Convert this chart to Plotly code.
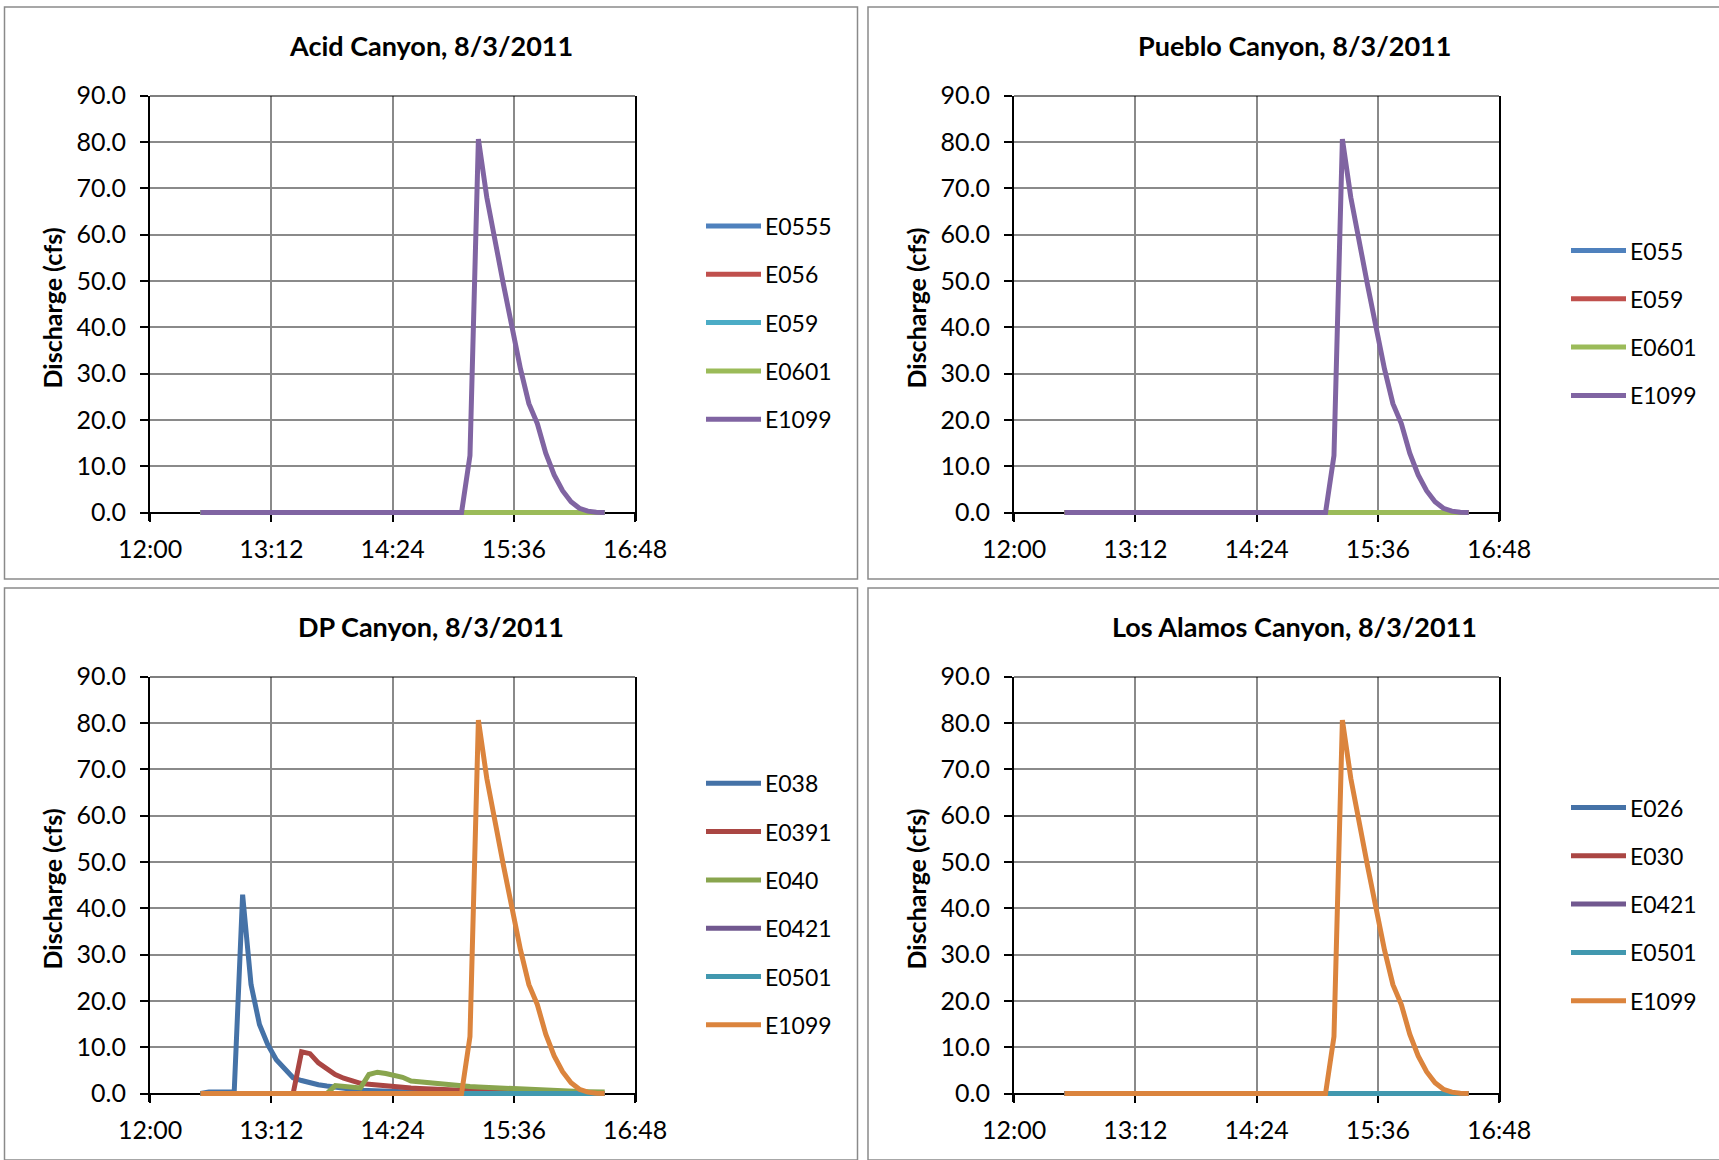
import plotly.graph_objects as go

DATE = "2011-08-03"
TIMES = ["12:30", "12:35", "12:40", "12:45", "12:50", "12:55", "13:00", "13:05", "13:10", "13:15",
         "13:20", "13:25", "13:30", "13:35", "13:40", "13:45", "13:50", "13:55", "14:00", "14:05",
         "14:10", "14:15", "14:20", "14:25", "14:30", "14:35", "14:40", "14:45", "14:50", "14:55",
         "15:00", "15:05", "15:10", "15:15", "15:20", "15:25", "15:30", "15:35", "15:40", "15:45",
         "15:50", "15:55", "16:00", "16:05", "16:10", "16:15", "16:20", "16:25", "16:30"]

ZERO = [0, 0, 0, 0, 0, 0, 0, 0, 0, 0, 0, 0, 0, 0, 0, 0, 0, 0, 0, 0, 0, 0, 0, 0, 0,
        0, 0, 0, 0, 0, 0, 0, 0, 0, 0, 0, 0, 0, 0, 0, 0, 0, 0, 0, 0, 0, 0, 0, 0]

E1099 = [0, 0, 0, 0, 0, 0, 0, 0, 0, 0, 0, 0, 0, 0, 0, 0, 0, 0, 0, 0, 0, 0, 0, 0, 0,
         0, 0, 0, 0, 0, 0, 0, 12.3, 80.6, 68.0, 58.0, 49.0, 40.0, 31.0, 23.5,
         19.2, 12.8, 8.1, 4.7, 2.3, 0.9, 0.3, 0.05, 0]

E038 = [0, 0.3, 0.3, 0.3, 0.3, 42.9, 23.5, 14.9, 10.5, 7.3, 5.2, 3.4, 2.8, 2.3, 1.9, 1.6,
        1.3, 1.1, 0.9, 0.7, 0.6, 0.5, 0.4, 0.4, 0.3, 0.3, 0.3, 0.2, 0.2, 0.2, 0.2, 0.2,
        0.1, 0.1, 0.1, 0.1, 0.1, 0.1, 0.1, 0.1, 0.1, 0.1, 0.1, 0.1, 0.1, 0.1, 0.1, 0.1, 0]

E0391 = [0, 0, 0, 0, 0, 0, 0, 0, 0, 0, 0, 0, 9.0, 8.6, 6.6, 5.2, 4.1, 3.3, 2.7, 2.2,
         2.0, 1.8, 1.6, 1.45, 1.3, 1.2, 1.1, 1.0, 0.95, 0.9, 0.85, 0.8, 0.5, 0.4, 0.4,
         0.3, 0.3, 0.3, 0.2, 0.2, 0.2, 0.2, 0.1, 0.1, 0.1, 0.1, 0.1, 0, 0]

E040 = [0, 0, 0, 0, 0, 0, 0, 0, 0, 0, 0, 0, 0, 0, 0, 0, 1.7, 1.5, 1.4, 1.2, 4.1, 4.6,
        4.3, 4.0, 3.5, 2.7, 2.5, 2.3, 2.2, 2.0, 1.8, 1.6, 1.5, 1.4, 1.3, 1.2, 1.1, 1.0,
        0.9, 0.85, 0.8, 0.7, 0.6, 0.55, 0.5, 0.45, 0.4, 0.35, 0.3]

PANELS = [
    {"title": "Acid Canyon, 8/3/2011",
     "names": ["E0555", "E056", "E059", "E0601", "E1099"],
     "values": [ZERO, ZERO, ZERO, ZERO, E1099],
     "colors": ["#4F81BD", "#C0504D", "#4BACC6", "#9BBB59", "#8064A2"]},
    {"title": "Pueblo Canyon, 8/3/2011",
     "names": ["E055", "E059", "E0601", "E1099"],
     "values": [ZERO, ZERO, ZERO, E1099],
     "colors": ["#4F81BD", "#C0504D", "#9BBB59", "#8064A2"]},
    {"title": "DP Canyon, 8/3/2011",
     "names": ["E038", "E0391", "E040", "E0421", "E0501", "E1099"],
     "values": [E038, E0391, E040, ZERO, ZERO, E1099],
     "colors": ["#4572A7", "#AA4643", "#89A54E", "#71588F", "#4198AF", "#DB843D"]},
    {"title": "Los Alamos Canyon, 8/3/2011",
     "names": ["E026", "E030", "E0421", "E0501", "E1099"],
     "values": [ZERO, ZERO, ZERO, ZERO, E1099],
     "colors": ["#4572A7", "#AA4643", "#71588F", "#4198AF", "#DB843D"]},
]

W, H = 1719, 1160
FONT = "Lato, 'Open Sans', sans-serif"
# pixel layout: (plot left, plot right, y of 90, y of 0, panel left, panel top, legend first y, legend x)
GEOM = [
    (150, 635, 95.5, 512.5, 4.5, 7, 226.0, 706),
    (1014, 1499, 95.5, 512.5, 868, 7, 250.5, 1571),
    (150, 635, 676.5, 1093.5, 4.5, 588, 783.3, 706),
    (1014, 1499, 676.5, 1093.5, 868, 588, 807.5, 1571),
]
PANEL_W, PANEL_H = 853, 572
LEG_STEP = 48.3
TICKLEN = 8
LW = 5

times = [f"{DATE} {t}" for t in TIMES]
fig = go.Figure()
shapes, annotations = [], []
layout = {}

for i, (panel, geom) in enumerate(zip(PANELS, GEOM)):
    pl, pr, y90, y0, bx, by, legy, legx = geom
    n = "" if i == 0 else str(i + 1)
    xa, ya = "x" + n, "y" + n
    for name, vals, col in zip(panel["names"], panel["values"], panel["colors"]):
        fig.add_trace(go.Scatter(x=times, y=vals, name=name, mode="lines",
                                 line=dict(color=col, width=LW), xaxis=xa, yaxis=ya,
                                 showlegend=False))
    pxper = (y0 - y90) / 90.0
    ymin = -TICKLEN / pxper
    dom_y = [1 - (y0 + TICKLEN) / H, 1 - y90 / H]
    layout["xaxis" + n] = dict(
        type="date", domain=[pl / W, pr / W], anchor="free", position=1 - y0 / H,
        range=[f"{DATE} 12:00", f"{DATE} 16:48"], tick0=f"{DATE} 12:00",
        dtick=72 * 60 * 1000, tickformat="%H:%M", showgrid=True, gridcolor="#8a8a8a",
        gridwidth=1.5, ticks="outside", ticklen=TICKLEN, tickwidth=2, tickcolor="black",
        showline=True, linecolor="black", linewidth=2, zeroline=False, layer="below traces",
        automargin=False,
        tickfont=dict(family=FONT, size=25, color="black"), ticklabelstandoff=6,
    )
    layout["yaxis" + n] = dict(
        domain=dom_y, anchor=xa, range=[ymin, 90], tick0=0, dtick=10, tickformat=".1f",
        showgrid=True, gridcolor="#8a8a8a", gridwidth=1.5, ticks="outside", ticklen=TICKLEN,
        tickwidth=2, tickcolor="black", showline=True, mirror=True, linecolor="black",
        linewidth=2, zeroline=False, layer="below traces", automargin=False,
        tickfont=dict(family=FONT, size=25, color="black"), ticklabelstandoff=9,
        title=dict(text="<b>Discharge (cfs)</b>", font=dict(family=FONT, size=25, color="black"),
                   standoff=7),
    )
    # top border of plot area
    shapes.append(dict(type="line", xref=xa + " domain", x0=0, x1=1, yref=ya, y0=90, y1=90,
                       line=dict(color="black", width=2)))
    # chart frame
    shapes.append(dict(type="rect", xref="paper", yref="paper", x0=bx / W, x1=(bx + PANEL_W) / W,
                       y0=1 - (by + PANEL_H) / H, y1=1 - by / H, layer="below",
                       line=dict(color="#8a8a8a", width=1.5), fillcolor="rgba(0,0,0,0)"))
    annotations.append(dict(text="<b>" + panel["title"] + "</b>", xref="paper", yref="paper",
                            x=(bx + PANEL_W / 2) / W, y=1 - (by + 38) / H, showarrow=False,
                            xanchor="center", yanchor="middle",
                            font=dict(family=FONT, size=27, color="black")))
    # legend
    for k, (name, col) in enumerate(zip(panel["names"], panel["colors"])):
        ly = legy + k * LEG_STEP
        shapes.append(dict(type="line", xref="paper", yref="paper", x0=legx / W, x1=(legx + 55) / W,
                           y0=1 - ly / H, y1=1 - ly / H, line=dict(color=col, width=LW)))
        annotations.append(dict(text=name, xref="paper", yref="paper", x=(legx + 57) / W,
                                y=1 - ly / H, showarrow=False, xanchor="left", yanchor="middle",
                                font=dict(family=FONT, size=23, color="black")))

fig.update_layout(template="none", width=W, height=H, margin=dict(l=0, r=0, t=0, b=0),
                  paper_bgcolor="white", plot_bgcolor="white", showlegend=False,
                  shapes=shapes, annotations=annotations, **layout)
fig.write_html("out.html", config={"displayModeBar": False},
               post_script="document.body.style.margin='0';")
